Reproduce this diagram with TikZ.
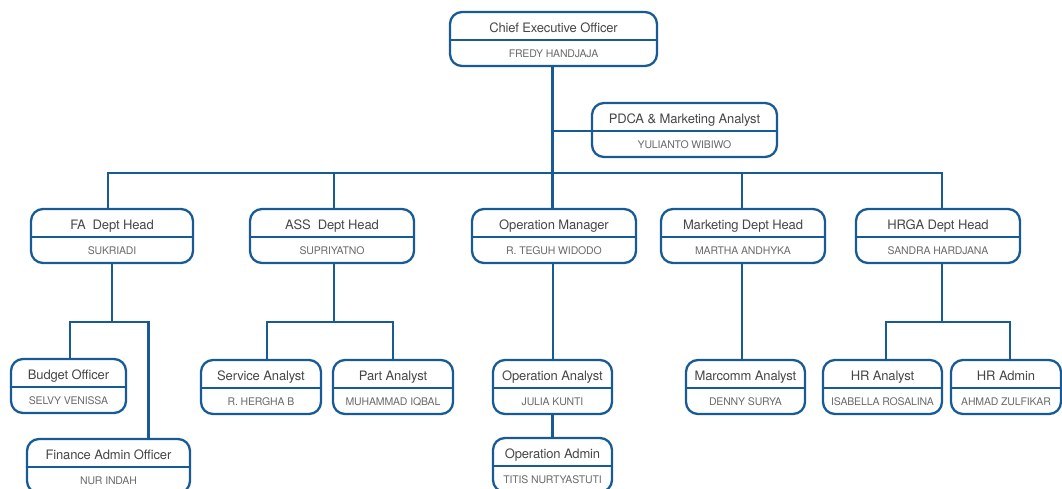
\documentclass[tikz,border=0pt]{standalone}
\usepackage{fontspec}
\setmainfont{TeX Gyre Heros}
\definecolor{orgblue}{RGB}{23,90,150}
\definecolor{titlegray}{RGB}{70,70,70}
\definecolor{namegray}{RGB}{105,105,105}
\tikzset{
  obox/.style={draw=orgblue, line width=2.3pt, rounded corners=12pt, inner sep=0pt, minimum height=54pt},
  otitle/.style={text=titlegray, font=\fontsize{13}{15}\selectfont\addfontfeatures{LetterSpace=-1.2}, inner sep=0pt, anchor=base},
  oname/.style={text=namegray, font=\fontsize{10.5}{12}\selectfont\addfontfeatures{LetterSpace=-1.5}, inner sep=0pt, anchor=base},
  link/.style={draw=orgblue, line width=2.3pt},
}
% name, left, top, right, title, person
\newcommand\orgbox[6]{%
  \node[obox, minimum width={(#4-#2)*1pt}] (#1) at ({(#2+#4)/2},{#3+27}) {};
  \draw[link] ([yshift=-29pt]#1.north west) coordinate (#1-dw) -- ([yshift=-29pt]#1.north east);
  \node[otitle] (#1-t) at ([yshift=-22pt]#1.north) {#5};
  \node[oname] (#1-n) at ([yshift=-46.5pt]#1.north) {#6};
}
\begin{document}
\begin{tikzpicture}[x=1pt,y=-1pt]
\useasboundingbox (0,0) rectangle (1062,489);
\orgbox{ceo}{450}{12}{657}{Chief Executive Officer}{FREDY HANDJAJA}
\orgbox{pdca}{592}{103}{777}{PDCA \& Marketing Analyst}{YULIANTO WIBIWO}
\orgbox{fa}{31}{209}{193}{FA\ \ Dept Head}{SUKRIADI}
\orgbox{ass}{250}{209}{414}{ASS\ \ Dept Head}{SUPRIYATNO}
\orgbox{opm}{472}{209}{636}{Operation Manager}{R. TEGUH WIDODO}
\orgbox{mkt}{661}{209}{825}{Marketing Dept Head}{MARTHA ANDHYKA}
\orgbox{hrga}{856}{209}{1020}{HRGA Dept Head}{SANDRA HARDJANA}
\orgbox{budget}{11}{359}{126}{Budget Officer}{SELVY VENISSA}
\orgbox{finance}{27}{439}{190}{Finance Admin Officer}{NUR INDAH}
\orgbox{service}{201}{360}{321}{Service Analyst}{R. HERGHA B}
\orgbox{part}{333}{360}{453}{Part Analyst}{MUHAMMAD IQBAL}
\orgbox{opa}{493}{360}{612}{Operation Analyst}{JULIA KUNTI}
\orgbox{opad}{493}{438}{612}{Operation Admin}{TITIS NURTYASTUTI}
\orgbox{marcomm}{686}{360}{805}{Marcomm Analyst}{DENNY SURYA}
\orgbox{hra}{823}{360}{942}{HR Analyst}{ISABELLA ROSALINA}
\orgbox{hradm}{951}{360}{1061}{HR Admin}{AHMAD ZULFIKAR}

\coordinate (bus) at (553,173);
\coordinate (lvl) at (0,322);

% CEO trunk and staff
\draw[link] ([xshift=-1pt]ceo.south) -- ([xshift=-1pt]ceo.south |- opm.north);
\draw[link] (pdca-dw) -- (pdca-dw -| ceo.south);

% department bus
\draw[link] ([xshift=-4pt]fa.north) -- ([xshift=-4pt]fa.north |- bus) -- ([xshift=4pt]hrga.north |- bus) -- ([xshift=4pt]hrga.north);
\draw[link] ([xshift=2pt]ass.north) -- ([xshift=2pt]ass.north |- bus);
\draw[link] ([xshift=-1pt]mkt.north) -- ([xshift=-1pt]mkt.north |- bus);

% FA children
\coordinate (fin-in) at ([xshift=40pt]finance.north);
\draw[link] (fa.south) -- (fa.south |- lvl);
\draw[link] ([xshift=1.5pt]budget.north) |- (fin-in |- lvl) -- (fin-in);

% ASS children
\coordinate (sv-in) at ([xshift=6pt]service.north);
\draw[link] ([xshift=2pt]ass.south) -- ([xshift=2pt]ass.south |- lvl);
\draw[link] (sv-in) |- (part.north |- lvl) -- (part.north);

% Operation
\draw[link] ([xshift=-1pt]opm.south) -- ([xshift=-1pt]opm.south |- opa.north);
\draw[link] (opa.south) -- (opad.north);

% Marketing
\draw[link] ([xshift=-1pt]mkt.south) -- ([xshift=-1pt]mkt.south |- marcomm.north);

% HRGA children
\draw[link] ([xshift=4pt]hrga.south) -- ([xshift=4pt]hrga.south |- lvl);
\draw[link] ([xshift=3.5pt]hra.north) |- ([xshift=4pt]hradm.north |- lvl) -- ([xshift=4pt]hradm.north);
\end{tikzpicture}
\end{document}
